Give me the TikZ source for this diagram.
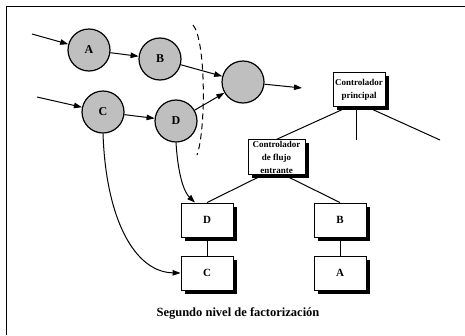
\documentclass[tikz,border=0pt]{standalone}
\usepackage{fontspec}
\setmainfont{Liberation Serif}
\usetikzlibrary{arrows.meta,shadows}

\begin{document}
\begin{tikzpicture}[x=1pt,y=-1pt,
  proc/.style={circle, draw, line width=1.2pt, fill=gray!50, minimum size=42pt,
    inner sep=0pt, font=\bfseries\fontsize{12}{12}\selectfont},
  modbox/.style={draw, line width=0.9pt, fill=white, minimum width=52pt,
    minimum height=34pt, inner sep=1pt, align=center,
    drop shadow={shadow xshift=3.5pt, shadow yshift=-3.5pt, fill=black, opacity=1},
    font=\bfseries\fontsize{11}{11}\selectfont},
  ctrl/.style={modbox, font=\bfseries\fontsize{9}{13}\selectfont},
  flow/.style={-{Triangle[length=8pt,width=5.5pt]}, line width=1pt},
  link/.style={line width=1pt}]
\useasboundingbox (0,0) rectangle (465,335);

% frame
\draw[line width=1pt] (465,6) -- (6,6) -- (6,335);

% data flow graph
\node[proc] (a) at (89,50) {A};
\node[proc] (b) at (160,59) {B};
\node[proc] (c) at (103,112) {C};
\node[proc] (d) at (176,121) {D};
\node[proc] (m) at (243,82) {};
\coordinate (ina) at (32,34);
\coordinate (inc) at (37,97);
\coordinate (outm) at (302,88);

\draw[flow] (ina) -- (a);
\draw[flow] (a) -- (b);
\draw[flow] (inc) -- (c);
\draw[flow] (c) -- (d);
\draw[flow] (b) -- (m);
\draw[flow] (d) -- (m);
\draw[flow] (m) -- (outm);

% boundary of the factored part
\draw[line width=1pt, dash pattern=on 6pt off 4pt]
  (193,25) .. controls (206,40) and (206,130) .. (197,155);

% structure chart
\node[ctrl] (cp) at (359,89.5) {Controlador\\principal};
\node[ctrl, minimum width=57pt] (cf) at (276.5,157) {Controlador\\de flujo\\entrante};
\node[modbox] (bd) at (207,220) {D};
\node[modbox] (bc) at (207,273) {C};
\node[modbox] (bb) at (340,220) {B};
\node[modbox] (ba) at (340,273) {A};
\coordinate (mid) at (356,140);
\coordinate (rgt) at (440,140);

\draw[link] ([xshift=-11pt]cp.south) -- (cf.north);
\draw[link] (cp.south -| mid) -- (mid);
\draw[link] ([xshift=8pt]cp.south) -- (rgt);
\draw[link] ([xshift=-13pt]cf.south) -- (bd.north);
\draw[link] ([xshift=7pt]cf.south) -- (bb.north);
\draw[link] (bd.south) -- (bc.north);
\draw[link] (bb.south) -- (ba.north);

% mapping of the bubbles onto the modules
\draw[flow] (c.south) .. controls (106,220) and (135,272) .. (bc.west);
\draw[flow] (d.south) .. controls (178,175) and (184,192) .. ([xshift=-12pt]bd.north);

\node[font=\bfseries\fontsize{12.5}{12.5}\selectfont] (cap) at (238,313) {Segundo nivel de factorización};
\end{tikzpicture}
\end{document}
